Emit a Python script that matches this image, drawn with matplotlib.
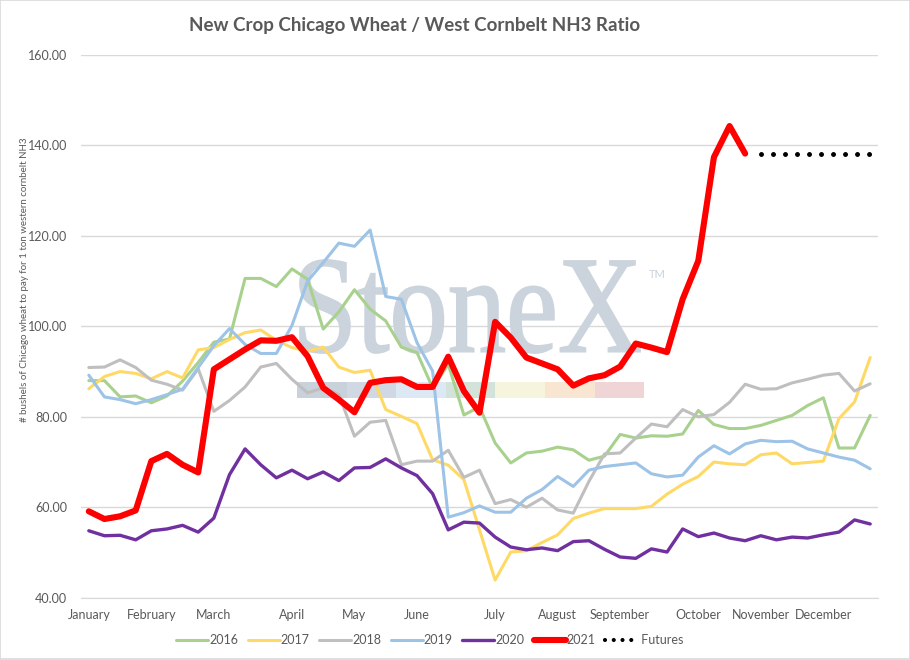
import matplotlib
matplotlib.use("Agg")
import matplotlib.pyplot as plt
from matplotlib.patches import Rectangle, PathPatch
from matplotlib.textpath import TextPath
from matplotlib.font_manager import FontProperties
from matplotlib.transforms import Affine2D
from matplotlib.lines import Line2D

# weekly points, Jan..Dec (51 categories); only month starts carry a label
month_pos = [0, 4, 8, 13, 17, 21, 26, 30, 34, 39, 43, 47]
month_lab = ["January", "February", "March", "April", "May", "June", "July",
             "August", "September", "October", "November", "December"]

y2016 = [88.0, 88.0, 84.4, 84.6, 83.1, 84.6, 87.9, 92.0, 96.5, 97.2,
         110.6, 110.6, 108.8, 112.7, 110.4, 99.4, 103.2, 108.1, 103.8, 101.2,
         95.4, 94.2, 86.4, 91.6, 80.4, 82.2, 74.2, 69.8, 72.0, 72.4,
         73.3, 72.7, 70.4, 71.3, 76.1, 75.3, 75.8, 75.7, 76.2, 81.4,
         78.3, 77.4, 77.4, 78.1, 79.2, 80.3, 82.5, 84.2, 73.1, 73.1, 80.3]
y2017 = [86.2, 88.9, 90.0, 89.6, 88.4, 90.0, 88.6, 94.8, 95.3, 97.1,
         98.6, 99.2, 96.9, 95.3, 94.5, 95.4, 91.0, 89.8, 90.3, 81.6,
         80.1, 78.5, 70.5, 69.3, 66.1, 55.0, 43.9, 50.1, 50.4, 52.2,
         53.9, 57.5, 58.7, 59.7, 59.7, 59.7, 60.2, 62.9, 65.1, 66.8,
         70.0, 69.6, 69.4, 71.6, 72.0, 69.6, 69.9, 70.2, 79.6, 83.3, 93.1]
y2018 = [90.9, 91.0, 92.6, 90.9, 88.1, 87.2, 85.9, 90.6, 81.2, 83.6,
         86.6, 91.0, 91.8, 88.3, 85.3, 86.4, 84.9, 75.7, 78.8, 79.2,
         69.4, 70.2, 70.2, 72.6, 66.6, 68.2, 60.8, 61.7, 60.0, 62.0,
         59.4, 58.7, 65.7, 71.8, 72.0, 75.3, 78.4, 77.8, 81.6, 80.0,
         80.5, 83.2, 87.2, 86.1, 86.2, 87.5, 88.3, 89.2, 89.6, 85.7, 87.3]
y2019 = [89.2, 84.4, 83.8, 82.9, 83.8, 84.9, 86.1, 90.9, 95.7, 99.5,
         96.0, 94.0, 94.0, 100.2, 110.0, 114.1, 118.4, 117.7, 121.3, 106.6,
         106.0, 96.4, 90.1, 57.8, 58.8, 60.3, 58.9, 58.9, 62.0, 63.9,
         66.8, 64.6, 68.2, 69.0, 69.4, 69.8, 67.4, 66.7, 67.1, 71.1,
         73.6, 71.8, 74.0, 74.8, 74.5, 74.6, 72.9, 72.0, 71.1, 70.4, 68.5]
y2020 = [54.8, 53.7, 53.8, 52.8, 54.8, 55.2, 56.0, 54.5, 57.6, 67.2,
         72.9, 69.4, 66.5, 68.2, 66.3, 67.8, 65.9, 68.7, 68.8, 70.7,
         68.7, 67.0, 63.0, 55.0, 56.7, 56.5, 53.4, 51.2, 50.6, 51.0,
         50.4, 52.4, 52.6, 50.7, 49.0, 48.7, 50.8, 50.1, 55.2, 53.5,
         54.3, 53.2, 52.6, 53.7, 52.8, 53.4, 53.2, 53.9, 54.5, 57.2, 56.3]
y2021 = [59.1, 57.4, 58.0, 59.3, 70.2, 71.8, 69.4, 67.7, 90.5, 92.7,
         94.9, 96.9, 96.8, 97.6, 93.4, 86.4, 83.8, 81.0, 87.5, 88.1,
         88.3, 86.6, 86.6, 93.3, 85.7, 80.9, 101.0, 97.5, 93.1, 91.8,
         90.5, 86.9, 88.5, 89.2, 91.1, 96.2, 95.3, 94.3, 106.0, 114.5,
         137.4, 144.3, 138.2]
fut_x = [43, 44, 45, 46, 47, 48, 49, 50]
futures = [138.2, 138.2, 138.2, 138.2, 138.2, 138.2, 138.2, 138.2]

GREEN, YELLOW, GRAY, BLUE, PURPLE, RED = "#A9D18E", "#FFD966", "#BFBFBF", "#9DC3E6", "#7030A0", "#FF0000"
TXT, GRID = "#595959", "#D9D9D9"
WM = "#CBD3DC"
FONT = ["Lato", "DejaVu Sans"]
plt.rcParams["font.family"] = FONT

W, H = 910, 660
fig = plt.figure(figsize=(W / 100, H / 100), dpi=100)
ax = fig.add_axes([81 / W, 62.3 / H, 797 / W, 542.7 / H])

# chart border
fig.patches.append(Rectangle((0.0005, 0.0008), 0.999, 0.9985, transform=fig.transFigure,
                             fill=False, edgecolor=GRID, lw=1.2))

ax.set_xlim(-0.5, 50.5)
ax.set_ylim(40, 160)
ax.set_yticks(range(40, 161, 20))
ax.set_yticklabels([f"{v:.2f}" for v in range(40, 161, 20)])
ax.set_xticks(month_pos)
ax.set_xticklabels(month_lab)
ax.tick_params(length=0, colors=TXT, labelsize=9)
ax.tick_params(axis="y", pad=10)
ax.tick_params(axis="x", pad=8)
ax.grid(axis="y", color=GRID, lw=1)
ax.set_axisbelow(True)
for s in ("top", "right", "left"):
    ax.spines[s].set_visible(False)
ax.spines["bottom"].set_color(GRID)

# StoneX watermark (behind the series)
tp = TextPath((0, 0), "StoneX", size=1, prop=FontProperties(family="Liberation Serif"))
bb = tp.get_extents()
x0, x1, ytop, ybase = 300, 640, 260, 353
tr = (Affine2D().translate(-bb.x0, -bb.y0)
      .scale((x1 - x0) / W / bb.width, (ybase - ytop) / H / bb.height)
      .translate(x0 / W, 1 - ybase / H) + fig.transFigure)
ax.add_patch(PathPatch(tp, transform=tr, facecolor=WM, edgecolor=WM, lw=1.3,
                       zorder=1.5, clip_on=False))
ax.text(657 / W, 1 - 274 / H, "TM", transform=fig.transFigure, fontsize=8, color=WM,
        ha="center", va="center", zorder=1.5)
bar_cols = ["#C9D1DB", "#CFD8E3", "#DCE8F3", "#D3E3DA", "#F6F4DC", "#F8E6D3", "#F0D5D7"]
for k, c in enumerate(bar_cols):
    ax.add_patch(Rectangle(((297 + k * 49.6) / W, 1 - 398.3 / H), 49.6 / W, 16 / H,
                           transform=fig.transFigure, facecolor=c, edgecolor="none",
                           zorder=1.5, clip_on=False))

kw = dict(solid_joinstyle="round", solid_capstyle="round")
ax.plot(range(len(y2016)), y2016, color=GREEN, lw=2.2, label="2016", zorder=3, **kw)
ax.plot(range(len(y2017)), y2017, color=YELLOW, lw=2.2, label="2017", zorder=3, **kw)
ax.plot(range(len(y2018)), y2018, color=GRAY, lw=2.2, label="2018", zorder=3, **kw)
ax.plot(range(len(y2019)), y2019, color=BLUE, lw=2.2, label="2019", zorder=3, **kw)
ax.plot(range(len(y2020)), y2020, color=PURPLE, lw=2.4, label="2020", zorder=3, **kw)
ax.plot(range(len(y2021)), y2021, color=RED, lw=4.4, label="2021", zorder=4, **kw)
ax.plot(fut_x, futures, color="black", lw=3.6, linestyle=(0, (0.001, 2.4)),
        dash_capstyle="round", zorder=4)

handles, labels = ax.get_legend_handles_labels()
handles.append(Line2D([], [], color="black", lw=3.0, linestyle=(0, (0.001, 2.1)),
                      dash_capstyle="round"))
labels.append(" Futures")
fig.legend(handles, labels, loc="center", bbox_to_anchor=(430 / W, 1 - 640 / H), ncol=7,
           frameon=False, fontsize=9, labelcolor=TXT, handlelength=2.55, handletextpad=0.1,
           columnspacing=0.75)

fig.text(415 / W, 1 - 25 / H, "New Crop Chicago Wheat / West Cornbelt NH3 Ratio",
         ha="center", va="center", fontsize=13.5, fontweight="bold", color=TXT)
fig.text(25 / W, 1 - 280 / H, "# bushels of Chicago wheat to pay for 1 ton western cornbelt NH3",
         ha="center", va="center", rotation=90, fontsize=7, color=TXT)

fig.savefig("out.png", dpi=100)
